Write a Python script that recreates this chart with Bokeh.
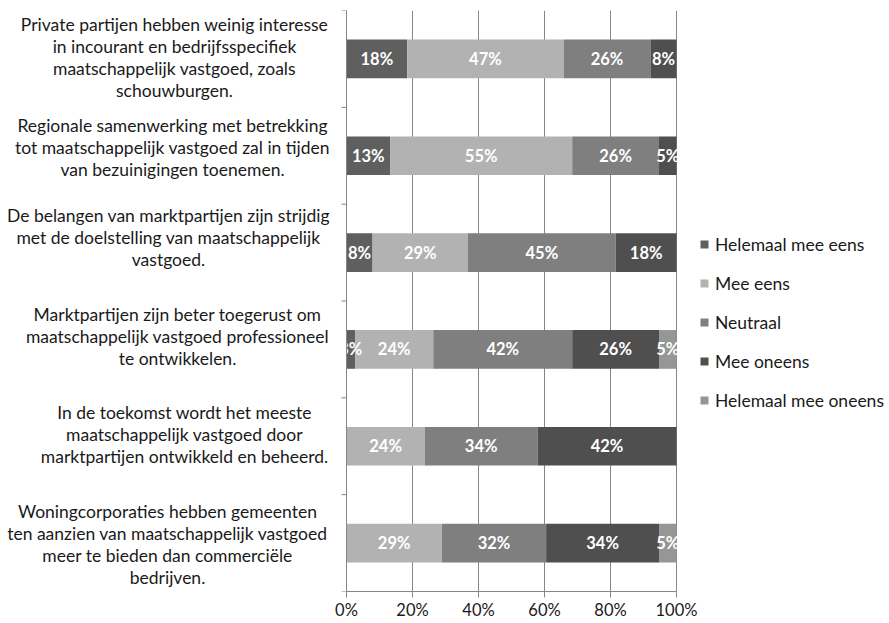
from bokeh.plotting import figure
from bokeh.models import (ColumnDataSource, FixedTicker, Legend, LegendItem, Label, Span,
                          PrintfTickFormatter, Range1d)
from bokeh.embed import file_html
from bokeh.resources import INLINE
from bokeh.core.properties import value

statements = [
    "Private partijen hebben weinig interesse\nin incourant en bedrijfsspecifiek\nmaatschappelijk vastgoed, zoals\nschouwburgen.",
    "Regionale samenwerking met betrekking\ntot maatschappelijk vastgoed zal in tijden\nvan bezuinigingen toenemen.",
    "De belangen van marktpartijen zijn strijdig\nmet de doelstelling van maatschappelijk\nvastgoed.",
    "Marktpartijen zijn beter toegerust om\nmaatschappelijk vastgoed professioneel\nte ontwikkelen.",
    "In de toekomst wordt het meeste\nmaatschappelijk vastgoed door\nmarktpartijen ontwikkeld en beheerd.",
    "Woningcorporaties hebben gemeenten\nten aanzien van maatschappelijk vastgoed\nmeer te bieden dan commerciële\nbedrijven.",
]
series_names = ["Helemaal mee eens", "Mee eens", "Neutraal", "Mee oneens", "Helemaal mee oneens"]
helemaal_mee_eens = [18.4, 13.2, 7.9, 2.6, 0.0, 0.0]
mee_eens = [47.4, 55.2, 28.9, 23.7, 23.7, 28.9]
neutraal = [26.3, 26.3, 44.8, 42.1, 34.2, 31.6]
mee_oneens = [7.9, 5.3, 18.4, 26.3, 42.1, 34.2]
helemaal_mee_oneens = [0.0, 0.0, 0.0, 5.3, 0.0, 5.3]
x_ticks = [0, 20, 40, 60, 80, 100]

series_values = [helemaal_mee_eens, mee_eens, neutraal, mee_oneens, helemaal_mee_oneens]
colors = ["#5f5f5f", "#b2b2b2", "#7f7f7f", "#4f4f4f", "#969696"]
keys = ["s0", "s1", "s2", "s3", "s4"]

n = len(statements)
ys = [n - i - 0.5 for i in range(n)]
data = {"y": ys}
for k, vals in zip(keys, series_values):
    data[k] = vals
source = ColumnDataSource(data)

FONT = "Lato"
TEXT = "#1a1a1a"
AXIS = "#868686"
FS = "17.5px"

# layout: whole figure width is the frame; the 0-100 scale occupies 346..676 px
W, H = 889, 622
LEFT_PX, PLOT_PX = 346, 330
ppu = PLOT_PX / 100.0
x_lo = -LEFT_PX / ppu
x_hi = x_lo + W / ppu

p = figure(width=W, height=H, output_backend="svg", toolbar_location=None,
           x_range=Range1d(x_lo, x_hi), y_range=Range1d(0, n), y_axis_location=None,
           min_border_left=0, min_border_top=10, min_border_right=0, min_border_bottom=28)
p.outline_line_color = None
p.background_fill_color = "white"

p.xgrid.ticker = FixedTicker(ticks=x_ticks)
p.xgrid.grid_line_color = AXIS
p.ygrid.grid_line_color = None

renderers = p.hbar_stack(keys, y="y", height=0.4, color=colors, line_color=None, source=source)

# value labels
lx, ly, lt = [], [], []
for i in range(n):
    left = 0.0
    for vals in series_values:
        v = vals[i]
        if v > 0:
            lx.append(left + v / 2)
            ly.append(ys[i])
            lt.append(f"{round(v)}%")
        left += v
p.text(x=lx, y=ly, text=lt, text_align="center", text_baseline="middle",
       text_color="white", text_font=value(FONT), text_font_style="bold",
       text_font_size="16.5px")

# x axis
p.xaxis.ticker = FixedTicker(ticks=x_ticks)
p.xaxis.bounds = (0, 100)
p.xaxis.formatter = PrintfTickFormatter(format="%d%%")
p.xaxis.axis_line_color = AXIS
p.xaxis.major_tick_line_color = AXIS
p.xaxis.major_tick_out = 6
p.xaxis.major_tick_in = 0
p.xaxis.minor_tick_line_color = None
p.xaxis.major_label_standoff = 2
p.xaxis.major_label_text_font = FONT
p.xaxis.major_label_text_font_size = "16.5px"
p.xaxis.major_label_text_color = TEXT

# y axis line at 0 with outward ticks at category boundaries
p.add_layout(Span(location=0, dimension="height", line_color=AXIS, line_width=1))
bounds = list(range(n + 1))
p.segment(x0=[0] * len(bounds), x1=[-5 / ppu] * len(bounds), y0=bounds, y1=bounds,
          line_color=AXIS, line_width=1)

# statement labels (per-line centred)
label_dx = [-172, -174, -178, -169, -162, -179]
label_dy = [1, 8, 15, 13, 12, -1]
for i, s in enumerate(statements):
    p.add_layout(Label(x=0, y=ys[i], x_offset=label_dx[i], y_offset=label_dy[i], text=s,
                       text_align="center", text_baseline="middle", text_font=FONT,
                       text_font_size=FS, text_color=TEXT, text_line_height=1.05))

legend = Legend(items=[LegendItem(label=nm, renderers=[r]) for nm, r in zip(series_names, renderers)],
                location=(699, 180), orientation="vertical")
legend.glyph_width = 10
legend.glyph_height = 10
legend.label_height = 22
legend.spacing = 17
legend.padding = 0
legend.margin = 0
legend.label_standoff = 6
legend.border_line_color = None
legend.background_fill_alpha = 0
legend.label_text_font = FONT
legend.label_text_font_size = FS
legend.label_text_color = TEXT
p.add_layout(legend, "center")

open("out.html", "w").write(file_html(p, INLINE))
